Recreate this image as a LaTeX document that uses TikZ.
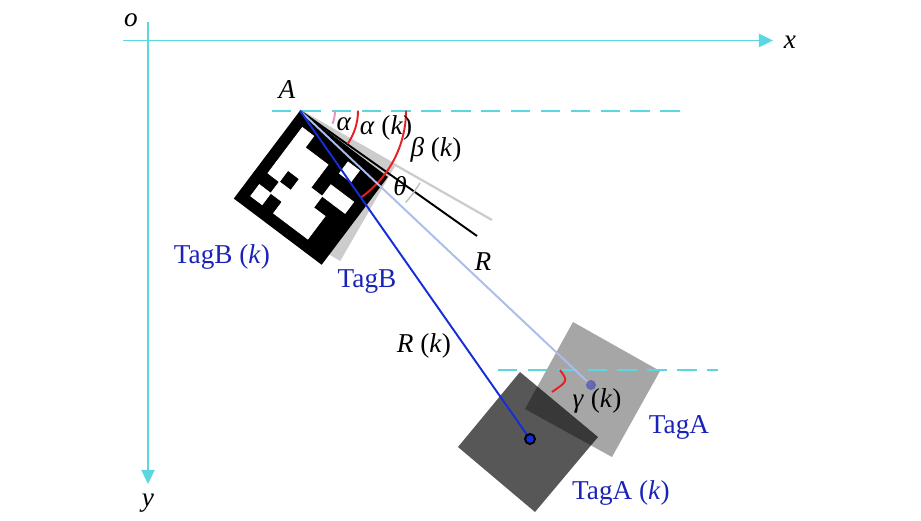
\documentclass[tikz,border=0pt]{standalone}
\usepackage{fontspec}
\setmainfont{Liberation Serif}
\usetikzlibrary{arrows.meta}
\definecolor{axiscyan}{RGB}{92,214,224}
\definecolor{tagblue}{RGB}{25,35,185}
\definecolor{linkblue}{RGB}{20,45,215}
\definecolor{paleblue}{RGB}{172,188,236}
\definecolor{arcred}{RGB}{232,30,35}
\definecolor{arcpink}{RGB}{226,150,190}
\definecolor{taggray}{RGB}{166,166,166}
\definecolor{oldgray}{RGB}{204,204,204}
\newcommand{\tagcell}[2]% column, row
{(12+14.3*#1,12+14.3*#2) rectangle ++(14.3,14.3)
}

\begin{document}
\begin{tikzpicture}[x=0.02cm, y=-0.02cm, font=\fontsize{15.5}{18}\selectfont,
	axis/.style={draw=axiscyan, line width=1.1pt, -{Triangle[length=8pt,width=7.5pt]}},
	level/.style={draw=axiscyan, line width=1.1pt, dash pattern=on 11pt off 6pt},
	angarc/.style={draw=arcred, line width=1.1pt},
	taglabel/.style={text=tagblue}]
	\useasboundingbox (0,0) rectangle (921,521);
	% axes
	\coordinate (xstart) at (123,40.5);
	\coordinate (xend) at (773,40.5);
	\coordinate (ystart) at (148,22);
	\coordinate (yend) at (148,484);
	\draw[axis] (xstart) -- (xend);
	\draw[axis] (ystart) -- (yend);
	\node (lbo) at (131,20){\textit{o}};
	\node (lbx) at (790,42){\textit{x}};
	\node (lby) at (148,503){\textit{y}};
	% TagB
	\coordinate (A) at (300,110.7);
	\coordinate (lvlB) at (680,110.7);
	\coordinate (Rold) at (492,220);
	\coordinate (R) at (477,236);
	\draw[level] (272,110.7) -- (lvlB);
	\begin{scope}[shift={(A)}, rotate=-30]
		\fill[oldgray] (0,0) rectangle (110,110);
	\end{scope}
	\draw[oldgray, line width=1.3pt] (A) -- (Rold);
	\draw[arcpink, line width=1.1pt] (A) ++(0:35) arc[start angle=0, end angle=22, radius=35];
	\begin{scope}[shift={(A)}, rotate=-37]
		\fill[black] (0,0) rectangle (110,110);
		\foreach \i/\j in {0/0,4/0,0/1,1/1,2/1,0/2,1/2,2/2,4/2,5/2,0/3,2/3,3/3,1/4,2/4,3/4,4/4,0/5,2/5,3/5,4/5}
			\filldraw[white, line width=0.4pt] \tagcell{\i}{\j};
	\end{scope}
	\draw[black, line width=1.1pt] (A) -- (R);
	\draw[angarc] (A) ++(0:58) arc[start angle=0, end angle=35, radius=58];
	\draw[angarc] (A) ++(0:106) arc[start angle=0, end angle=55, radius=106];
	\draw[gray!50, line width=0.8pt] (A) ++(31:140) arc[start angle=31, end angle=41, radius=140];
	\node (lbA) at (287,90){\textit{A}};
	\node (lbal) at (344,124){\textit{α}};
	\node (lbalk) at (386,128){\textit{α} (\textit{k})};
	\node (lbbek) at (436,150){\textit{β} (\textit{k})};
	\node (lbth) at (400,186){\textit{θ}};
	\node (lbR) at (483,262){\textit{R}};
	\node (lbRk) at (424,346){\textit{R} (\textit{k})};
	\node[taglabel] (lbTBk) at (222,257){TagB (\textit{k})};
	\node[taglabel] (lbTB) at (367,282){TagB};
	% TagA
	\coordinate (ctrA) at (591,385);
	\coordinate (ctrAk) at (530,439);
	\fill[taggray] (573,322) -- (660,371) -- (612,457) -- (525,409) -- cycle;
	\draw[level] (498,370) -- (718,370);
	\fill[black, opacity=0.66] (520,372) -- (598,437) -- (535,512) -- (458,447) -- cycle;
	\draw[paleblue, line width=1.1pt] (A) -- (ctrA);
	\draw[linkblue, line width=1.1pt] (A) -- (ctrAk);
	\fill[blue!40!gray, opacity=0.7] (ctrA) circle (5);
	\filldraw[fill=linkblue, draw=black, line width=1.1pt] (ctrAk) circle (5);
	\draw[angarc] (560,370) .. controls (568,381) .. (552,392);
	\node (lbgak) at (597,401){\textit{γ} (\textit{k})};
	\node[taglabel] (lbTA) at (679,427){TagA};
	\node[taglabel] (lbTAk) at (621,493){TagA (\textit{k})};
\end{tikzpicture}
\end{document}
